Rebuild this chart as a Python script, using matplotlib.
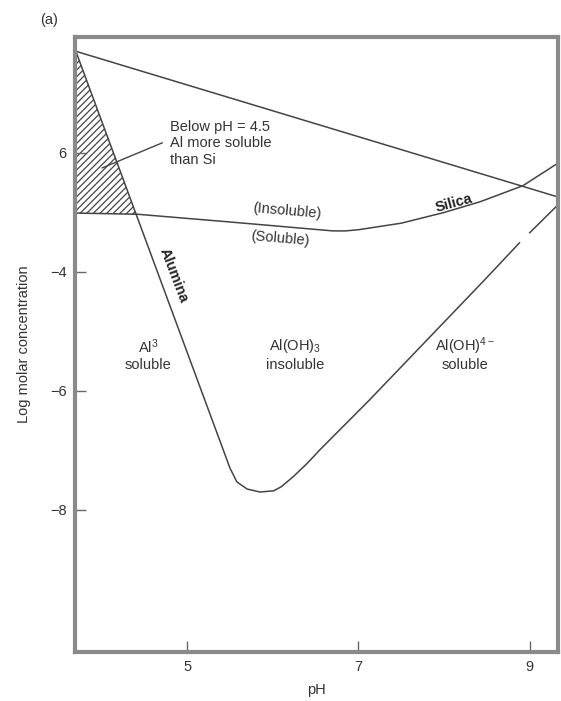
import matplotlib
matplotlib.use("Agg")
import matplotlib.pyplot as plt
from matplotlib.patches import Polygon

plt.rcParams['font.family'] = ['Liberation Sans', 'DejaVu Sans']
plt.rcParams['mathtext.fontset'] = 'custom'
plt.rcParams['mathtext.rm'] = 'Liberation Sans'
plt.rcParams['mathtext.it'] = 'Liberation Sans:italic'
plt.rcParams['hatch.linewidth'] = 0.9
plt.rcParams['hatch.color'] = '#444444'

# upper straight line (boundary)
upper_ph = [3.70, 9.33]
upper_y = [-0.29, -2.74]

# silica solubility curve
silica_ph = [3.70, 4.42, 5.50, 6.70, 6.85, 7.00, 7.50, 8.00, 8.42, 8.92, 9.33]
silica_y = [-3.01, -3.03, -3.16, -3.31, -3.31, -3.29, -3.18, -3.00, -2.82, -2.55, -2.17]

# alumina solubility curve (acid branch, rounded minimum, alkaline branch)
alumina_ph = [3.70, 5.50, 5.58, 5.70, 5.85, 6.01, 6.10, 6.24, 6.40, 6.55, 7.13, 8.475, 8.88]
alumina_y = [-0.29, -7.30, -7.53, -7.65, -7.70, -7.68, -7.61, -7.44, -7.22, -6.99, -6.15,
             -4.13, -3.51]
# short piece after the gap
alumina2_ph = [9.00, 9.33]
alumina2_y = [-3.34, -2.87]

# hatched region: Al more soluble than Si
hatch_ph = [3.70, 4.40, 3.70]
hatch_y = [-0.29, -3.03, -3.01]

xticks = [5, 7, 9]
yticks = [-2, -4, -6, -8]
ytick_labels = ['6', '\u22124', '\u22126', '\u22128']

line_c = '#444444'
text_c = '#333333'

fig = plt.figure(figsize=(5.61, 7.01), dpi=100)
ax = fig.add_axes([0.1337, 0.0699, 0.861, 0.8773])

ax.add_patch(Polygon(list(zip(hatch_ph, hatch_y)), closed=True, facecolor='none',
                     edgecolor=line_c, hatch='/////', linewidth=0))
ax.plot(upper_ph, upper_y, color=line_c, lw=1.1)
ax.plot(silica_ph, silica_y, color=line_c, lw=1.1)
ax.plot(alumina_ph, alumina_y, color=line_c, lw=1.1, solid_joinstyle='round')
ax.plot(alumina2_ph, alumina2_y, color=line_c, lw=1.1)

# annotation pointer
ax.plot([4.708, 4.009], [-1.83, -2.25], color=line_c, lw=1.0)
ax.text(4.80, -1.84, 'Below pH = 4.5\nAl more soluble\nthan Si', fontsize=10.5,
        color=text_c, ha='left', va='center', linespacing=1.2)

ax.text(6.17, -2.98, '(Insoluble)', fontsize=10.5, color=text_c, ha='center',
        va='center', rotation=-5)
ax.text(6.08, -3.44, '(Soluble)', fontsize=10.5, color=text_c, ha='center',
        va='center', rotation=-5)
ax.text(4.84, -4.05, 'Alumina', fontsize=10.5, color='#222222', ha='center',
        va='center', rotation=-69, fontweight='bold')
ax.text(8.12, -2.84, 'Silica', fontsize=10.5, color='#222222', ha='center',
        va='center', rotation=15, fontweight='bold')

ax.text(4.545, -5.25, r'Al$^3$', fontsize=10.5, color=text_c, ha='center', va='center')
ax.text(4.545, -5.56, 'soluble', fontsize=10.5, color=text_c, ha='center', va='center')
ax.text(6.26, -5.25, r'Al(OH)$_3$', fontsize=10.5, color=text_c, ha='center', va='center')
ax.text(6.26, -5.56, 'insoluble', fontsize=10.5, color=text_c, ha='center', va='center')
ax.text(8.24, -5.25, r'Al(OH)$^{4-}$', fontsize=10.5, color=text_c, ha='center', va='center')
ax.text(8.24, -5.56, 'soluble', fontsize=10.5, color=text_c, ha='center', va='center')

ax.set_xlim(3.69, 9.33)
ax.set_ylim(-10.39, -0.05)
ax.set_xticks(xticks)
ax.set_xticklabels([str(t) for t in xticks])
ax.set_yticks(yticks)
ax.set_yticklabels(ytick_labels)
ax.tick_params(direction='in', length=8, width=1.0, color='#666666',
               labelcolor=text_c, labelsize=10.5, pad=6)

for s in ax.spines.values():
    s.set_linewidth(3.0)
    s.set_color('#8a8a8a')

ax.set_xlabel('pH', fontsize=10.5, color=text_c, labelpad=6)
ax.set_ylabel('Log molar concentration', fontsize=10.5, color=text_c, labelpad=14)
fig.text(0.072, 0.972, '(a)', fontsize=10.5, color=text_c, ha='left', va='center')

fig.savefig('out.png', dpi=100)
